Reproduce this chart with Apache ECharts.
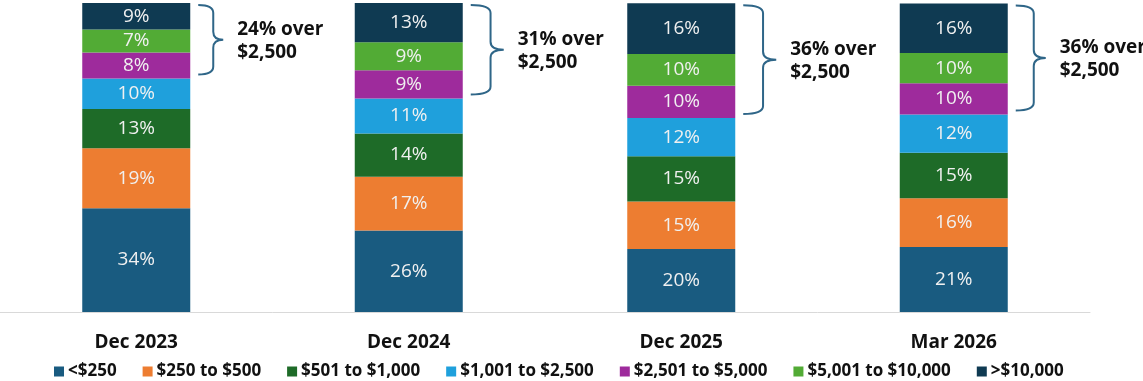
<!DOCTYPE html>
<html>
<head>
<meta charset="utf-8">
<script src="https://cdn.jsdelivr.net/npm/echarts@6/dist/echarts.min.js"></script>
<style>
html,body{margin:0;padding:0;background:#fff;}
#chart{width:1143px;height:381px;}
</style>
</head>
<body>
<div id="chart"></div>
<script>
// ---- data ----
const categories = ['Dec 2023', 'Dec 2024', 'Dec 2025', 'Mar 2026'];
const seriesNames = ['<$250', '$250 to $500', '$501 to $1,000', '$1,001 to $2,500', '$2,501 to $5,000', '$5,001 to $10,000', '>$10,000'];
const under250 = [33.6, 26.4, 20.4, 21.0];
const from250to500 = [19.4, 17.4, 15.4, 15.8];
const from501to1000 = [12.7, 14.0, 14.6, 14.7];
const from1001to2500 = [9.9, 11.3, 12.4, 12.4];
const from2501to5000 = [8.4, 9.1, 10.4, 10.1];
const from5001to10000 = [7.4, 9.1, 10.3, 9.8];
const over10000 = [8.6, 12.7, 16.4, 16.0];
const braceLabels = ['24% over\n$2,500', '31% over\n$2,500', '36% over\n$2,500', '36% over\n$2,500'];

// ---- style ----
const colors = ['#195b80', '#ed7d31', '#1e6b28', '#1fa0dc', '#9e2b9c', '#52ab35', '#0f3a52'];
const allSeries = [under250, from250to500, from501to1000, from1001to2500, from2501to5000, from5001to10000, over10000];
const FONT = '"Open Sans", sans-serif';
const BAR_W = 108;
const braceW = [25, 33, 33, 30];

// brace data: [categoryIndex, top of stack, top of the 4 lower segments]
const braceData = categories.map((c, i) => {
  let total = 0, below = 0;
  allSeries.forEach((arr, k) => { total += arr[i]; if (k < 4) below += arr[i]; });
  return [i, total, below];
});

const chart = echarts.init(document.getElementById('chart'), null, {renderer: 'canvas'});
const option = {
  animation: false,
  color: colors,
  grid: {left: 0, right: 53, top: 3, bottom: 69, containLabel: false},
  legend: {
    data: seriesNames,
    left: 49,
    top: 358,
    itemWidth: 10,
    itemHeight: 10,
    itemGap: 26,
    icon: 'rect',
    textStyle: {fontFamily: FONT, fontWeight: 'bold', fontSize: 17, color: '#111', padding: [0, 0, 0, -1]}
  },
  xAxis: {
    type: 'category',
    data: categories,
    axisLine: {show: true, lineStyle: {color: '#d9d9d9', width: 1}},
    axisTick: {show: false},
    axisLabel: {fontFamily: FONT, fontWeight: 'bold', fontSize: 19, color: '#111', margin: 21}
  },
  yAxis: {type: 'value', min: 0, max: 100, show: false, splitLine: {show: false}},
  series: allSeries.map((arr, k) => ({
    name: seriesNames[k],
    type: 'bar',
    stack: 'total',
    barWidth: BAR_W,
    data: arr,
    itemStyle: {color: colors[k]},
    label: {
      show: true,
      position: 'inside',
      color: '#f0f0f0',
      fontFamily: FONT,
      fontSize: 19,
      formatter: p => Math.round(p.value) + '%'
    }
  })).concat([{
    type: 'custom',
    name: 'brace',
    clip: false,
    silent: true,
    data: braceData,
    renderItem: (params, api) => {
      const i = api.value(0);
      const pTop = api.coord([i, api.value(1)]);
      const pBot = api.coord([i, api.value(2)]);
      const x0 = pTop[0] + BAR_W / 2 + 8;
      const y0 = pTop[1] + 2;
      const y1 = pBot[1] - 4;
      const w = braceW[i];
      const xm = x0 + w * 0.6;
      const xt = x0 + w;
      const ym = (y0 + y1) / 2;
      const r = 8;
      const d = `M${x0} ${y0} Q${xm} ${y0} ${xm} ${y0 + r} L${xm} ${ym - r} Q${xm} ${ym} ${xt} ${ym} Q${xm} ${ym} ${xm} ${ym + r} L${xm} ${y1 - r} Q${xm} ${y1} ${x0} ${y1}`;
      return {
        type: 'group',
        children: [{
          type: 'path',
          shape: {pathData: d, x: x0, y: y0, width: w, height: y1 - y0, layout: 'cover'},
          style: {stroke: '#2f6688', lineWidth: 2, fill: 'none'}
        }, {
          type: 'text',
          x: xt + 14,
          y: ym + 1,
          style: {
            text: braceLabels[i],
            fill: '#111',
            fontFamily: FONT,
            fontWeight: 'bold',
            fontSize: 19,
            lineHeight: 23,
            verticalAlign: 'middle',
            align: 'left'
          }
        }]
      };
    }
  }])
};
chart.setOption(option);
</script>
</body>
</html>
